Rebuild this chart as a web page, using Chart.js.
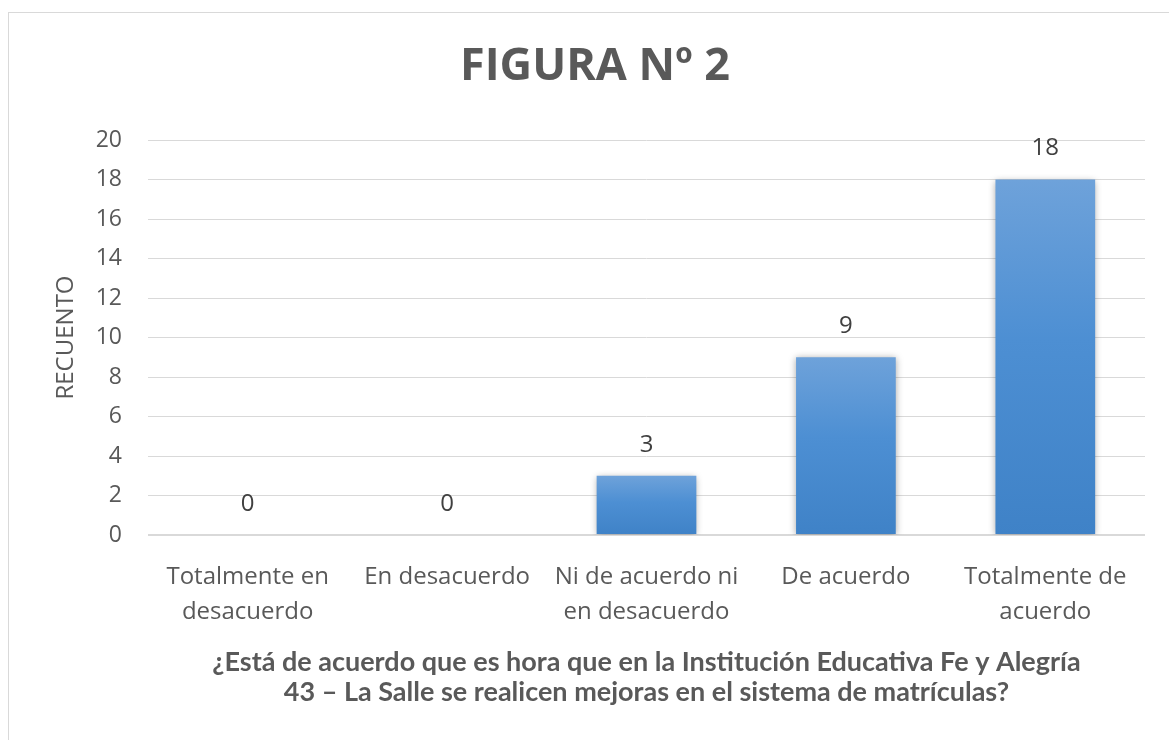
<!DOCTYPE html>
<html>
<head>
<meta charset="utf-8">
<script src="https://cdn.jsdelivr.net/npm/chart.js@4.4.1/dist/chart.umd.min.js"></script>
<style>
  html, body { margin: 0; padding: 0; background: #fff; overflow: hidden; }
  #frame { position: absolute; left: 8px; top: 12px; width: 1200px; height: 760px; border: 1px solid #d9d9d9; }
  #wrap { position: absolute; left: 0; top: 0; width: 1169px; height: 740px; }
</style>
</head>
<body>
<div id="frame"></div>
<div id="wrap"><canvas id="fig2"></canvas></div>
<script>
const categories = [
  ["Totalmente en", "desacuerdo"],
  "En desacuerdo",
  ["Ni de acuerdo ni", "en desacuerdo"],
  "De acuerdo",
  ["Totalmente de", "acuerdo"]
];
const counts = [0, 0, 3, 9, 18];
const yTicks = [0, 2, 4, 6, 8, 10, 12, 14, 16, 18, 20];

const chartTitle = "FIGURA Nº 2";
const yTitle = "RECUENTO";
const xTitle = [
  "¿Está de acuerdo que es hora que en la Institución Educativa Fe y Alegría",
  "43 – La Salle se realicen mejoras en el sistema de matrículas?"
];

const grey = "#595959";

// gradient per bar, lighter at the top
function barFill(ctx) {
  const chart = ctx.chart;
  const y = chart.scales.y;
  if (!y || ctx.dataIndex === undefined) return "#4a8ad0";
  const top = y.getPixelForValue(counts[ctx.dataIndex]);
  const base = y.getPixelForValue(0);
  if (!isFinite(top) || !isFinite(base) || base - top < 1) return "#4a8ad0";
  const g = chart.ctx.createLinearGradient(0, top, 0, base);
  g.addColorStop(0, "#6ea2da");
  g.addColorStop(0.45, "#4d8fd3");
  g.addColorStop(1, "#3f82c7");
  return g;
}

const barShadow = {
  id: "barShadow",
  beforeDatasetDraw(chart) {
    const c = chart.ctx;
    c.save();
    c.shadowColor = "rgba(0,0,0,0.35)";
    c.shadowBlur = 7;
    c.shadowOffsetX = 0;
    c.shadowOffsetY = 1;
  },
  afterDatasetDraw(chart) {
    chart.ctx.restore();
  }
};

const valueLabels = {
  id: "valueLabels",
  afterDatasetsDraw(chart) {
    const c = chart.ctx;
    const meta = chart.getDatasetMeta(0);
    c.save();
    c.font = "24px 'Open Sans'";
    c.fillStyle = "#404040";
    c.textAlign = "center";
    c.textBaseline = "middle";
    meta.data.forEach((bar, i) => {
      c.fillText(String(counts[i]), bar.x, bar.y - 31);
    });
    c.restore();
  }
};

new Chart("fig2", {
  type: "bar",
  data: {
    labels: categories,
    datasets: [{
      data: counts,
      backgroundColor: barFill,
      borderWidth: 0,
      categoryPercentage: 1,
      barPercentage: 0.5
    }]
  },
  options: {
    responsive: true,
    maintainAspectRatio: false,
    animation: false,
    layout: { padding: { left: 45, right: 24, top: 0, bottom: 0 } },
    plugins: {
      legend: { display: false },
      tooltip: { enabled: false },
      title: {
        display: true,
        text: chartTitle,
        color: grey,
        font: { family: "'Open Sans'", size: 45, weight: "bold" },
        padding: { top: 40, bottom: 46 }
      }
    },
    scales: {
      x: {
        grid: { display: false },
        border: { display: false },
        ticks: {
          color: grey,
          font: { family: "'Open Sans'", size: 24, lineHeight: 1.45 },
          padding: 17,
          maxRotation: 0,
          autoSkip: false
        },
        title: {
          display: true,
          text: xTitle,
          color: grey,
          font: { family: "Lato", size: 27, weight: "bold", lineHeight: 1.11 },
          padding: { top: 0, bottom: 33 }
        },
        afterFit(s) { s.height = 205; }
      },
      y: {
        min: 0,
        max: 20,
        afterBuildTicks(s) { s.ticks = yTicks.map(v => ({ value: v })); },
        grid: {
          color: "#d9d9d9",
          lineWidth: ctx => (ctx.tick && ctx.tick.value === 0 ? 2 : 1),
          drawTicks: false
        },
        border: { display: false },
        ticks: {
          color: grey,
          font: { family: "'Open Sans'", size: 23 },
          padding: 26
        },
        title: {
          display: true,
          text: yTitle,
          color: grey,
          font: { family: "'Open Sans'", size: 24 },
          padding: { top: 7, bottom: 0 }
        },
        afterFit(s) { s.width = 103; }
      }
    }
  },
  plugins: [barShadow, valueLabels]
});
</script>
</body>
</html>
